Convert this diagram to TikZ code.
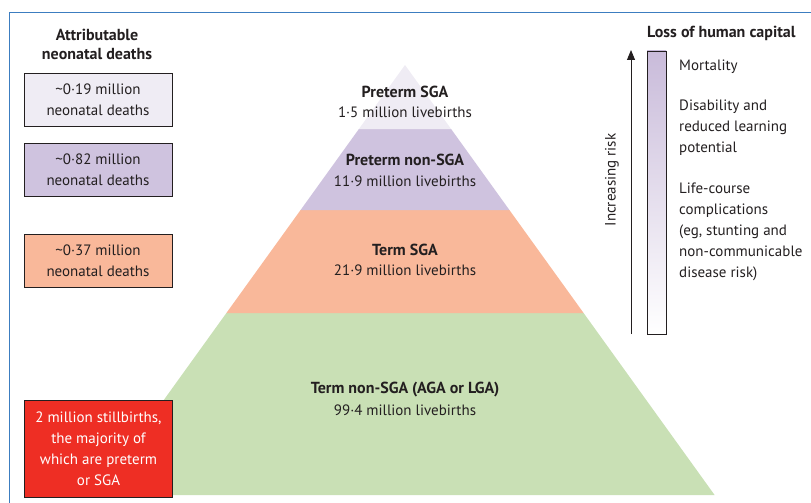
\documentclass[tikz,border=0pt]{standalone}
\usepackage{fontspec}
\setmainfont{PT Sans}
\usepackage{xcolor}
\usetikzlibrary{positioning, arrows.meta, calc, shapes.geometric}

\definecolor{framblue}{HTML}{3C7DC0}
\definecolor{inkgray}{HTML}{231F20}
\definecolor{pretsga}{HTML}{EFECF4}
\definecolor{pretnon}{HTML}{CFC3DF}
\definecolor{barpurple}{HTML}{C9BBDA}
\definecolor{termsga}{HTML}{F9B89A}
\definecolor{termnon}{HTML}{C9E0B5}
\definecolor{stillred}{HTML}{EE2E24}

\begin{document}
\begin{tikzpicture}[
			x=1pt, y=-1pt,
			% --- Styles ---
			deathbox/.style={
				rectangle, draw=inkgray, line width=0.9pt, minimum width=148pt, minimum height=53pt,
				align=center, text=inkgray, inner sep=0pt, font=\fontsize{15}{21}\selectfont
			},
			bandlabel/.style={
				align=center, text=inkgray, font=\fontsize{15}{20}\selectfont
			},
			headlabel/.style={
				align=center, text=inkgray, font=\fontsize{16}{19}\selectfont\bfseries
			},
			risktext/.style={
				anchor=north west, align=left, text=inkgray, inner sep=0pt,
				font=\fontsize{15}{21}\selectfont
			},
			line/.style={
				draw=inkgray, line width=0.9pt, -{Triangle[width=8pt, length=10pt]}
			}
			]
			
			% --- Canvas and panel corner ---
			\useasboundingbox (0,0) rectangle (811,503);
			\draw [framblue, line width=0.8pt] (9,503) -- (9,12) -- (811,12);
			
			% --- 1. Pyramid bands (apex and base) ---
			\coordinate (apex) at (405,65);
			\fill [termnon] (405-309.6,495) -- (405+309.6,495) -- (405+178.6,313) -- (405-178.6,313) -- cycle;
			\fill [termsga] (405-178.6,313) -- (405+178.6,313) -- (405+104.4,210) -- (405-104.4,210) -- cycle;
			\fill [pretnon] (405-104.4,210) -- (405+104.4,210) -- (405+46.1,129) -- (405-46.1,129) -- cycle;
			\fill [pretsga] (405-46.1,129) -- (405+46.1,129) -- (apex) -- cycle;
			
			% Band labels (name, then count just below)
			\node [headlabel] (pretsga_head) at (405,92) {Preterm SGA};
			\node [bandlabel] (pretsga_num) at (405,112) {1·5 million livebirths};
			\node [headlabel] (pretnon_head) at (405,160) {Preterm non-SGA};
			\node [bandlabel] (pretnon_num) at (405,181) {11·9 million livebirths};
			\node [headlabel] (termsga_head) at (405,250) {Term SGA};
			\node [bandlabel] (termsga_num) at (405,270) {21·9 million livebirths};
			\node [headlabel] (termnon_head) at (405,390) {Term non-SGA (AGA or LGA)};
			\node [bandlabel] (termnon_num) at (405,410) {99·4 million livebirths};
			
			% --- 2. Attributable deaths (left column) ---
			\node [headlabel] (deaths_title) at (97,44) {Attributable\\neonatal deaths};
			\node [deathbox, fill=pretsga] (deaths_a) at (98,99.5) {\textasciitilde0·19 million\\neonatal deaths};
			\node [deathbox, fill=pretnon] (deaths_b) at (98,169.5) {\textasciitilde0·82 million\\neonatal deaths};
			\node [deathbox, fill=termsga] (deaths_c) at (98,261) {\textasciitilde0·37 million\\neonatal deaths};
			
			% Stillbirths box sits over the pyramid base
			\node [deathbox, fill=stillred, text=white, minimum height=97pt] (stillbirths) at (98.5,448.5)
			{2 million stillbirths,\\the majority of\\which are preterm\\or SGA};
			
			% --- 3. Risk arrow and human capital bar (right) ---
			\node [headlabel, anchor=west, inner sep=0pt] (capital_title) at (647,33) {Loss of human capital};
			\coordinate (risk_low) at (631,334);
			\coordinate (risk_high) at (631,50);
			\draw [line] (risk_low) -- (risk_high);
			\node [bandlabel, rotate=90] (risk_label) at (612,180) {Increasing risk};
			
			\node [draw=inkgray, line width=0.9pt, top color=barpurple, bottom color=white,
			minimum width=19pt, minimum height=283pt, inner sep=0pt] (capital_bar) at (656.5,192.5) {};
			
			\node [risktext] (mortality) at (679,60) {Mortality};
			\node [risktext] (disability) at (679,100) {Disability and\\reduced learning\\potential};
			\node [risktext] (lifecourse) at (679,183) {Life-course\\complications\\(eg, stunting and\\non-communicable\\disease risk)};
			
		\end{tikzpicture}
\end{document}
